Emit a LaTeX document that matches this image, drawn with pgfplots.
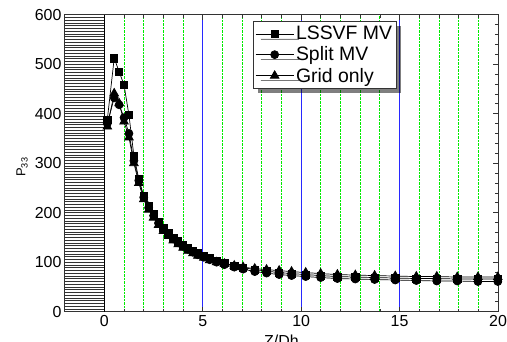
\documentclass[border=0pt]{standalone}
\usepackage{pgfplots}
\pgfplotsset{compat=1.18}
\usepackage{pgfplotstable}
\usepackage{fontspec}
\setmainfont{Liberation Sans}
\usetikzlibrary{shadows}
\definecolor{ggreen}{RGB}{0,235,0}
\definecolor{gblue}{RGB}{40,40,255}
\pgfplotstableread{
x S C T
0.15 388 380 374
0.50 512 432 441
0.75 485 418 421
1.00 458 392 384
1.25 397 360 352
1.50 315 305 300
1.75 268 265 260
2.00 234 231 227
2.25 213 210 206
2.50 197 194 190
2.75 182 179 175
3.00 169 166 163
3.25 159 156 153
3.50 150 147 144
3.75 142 139 136
4.00 135 132 129
4.25 129 126 123
4.50 123 120 118
4.75 118 115 113
5.05 113 110 109
5.35 108 105 104
5.70 103 100 100
6.10 98 95 97
6.60 93 90 93
7.05 89 86 90
7.64 85 81 87
8.24 82 78 85
8.88 79 75 83
9.51 77 73 81
10.23 75 71 79
10.99 73 69 77
11.84 71 67 75
12.75 70 66 74
13.73 69 65 73
14.78 68 64 72
15.85 67 63 71
16.89 67 62 71
17.93 66 62 70
18.98 66 61 70
19.99 66 61 70
}\datatable
\begin{document}
\begin{tikzpicture}
\begin{axis}[
  at={(0,0)}, anchor=south west,
  scale only axis, width=433bp, height=297bp,
  xmin=-2, xmax=20, ymin=0, ymax=600,
  xtick={0,5,10,15,20}, minor x tick num=4,
  ytick={0,100,...,600}, minor y tick num=4,
  major tick length=5bp, minor tick length=3bp,
  tick align=inside,
  xmajorgrids, xminorgrids,
  major grid style={gblue, line width=1bp, solid},
  minor grid style={ggreen, densely dotted, line width=0.9bp},
  axis line style={black!80, line width=1bp},
  every tick/.style={black!80, line width=0.8bp},
  tick label style={font=\fontsize{16}{18}\selectfont},
  /pgf/number format/assume math mode=true,
  xlabel={Z/Dh},
  xlabel style={at={(axis description cs:0.5,0)}, anchor=north, yshift=-20bp, font=\fontsize{16}{18}\selectfont},
  ylabel={P$_{\mathrm{33}}$},
  ylabel style={at={(axis description cs:0,0.487)}, anchor=center, yshift=43bp, font=\fontsize{13}{15}\selectfont},
  legend style={at={(axis description cs:0.434,0.979)}, anchor=north west,
    draw=black!80, line width=0.8bp, fill=white,
    drop shadow={shadow xshift=5bp, shadow yshift=-5bp, fill=black},
    font=\fontsize{19.5}{21}\selectfont, row sep=1.5bp, inner xsep=2bp, inner ysep=3bp},
  legend cell align=left,
  legend image code/.code={\draw[mark repeat=2,mark phase=2] plot coordinates {(0bp,0bp)(19bp,0bp)(38bp,0bp)};},
]
% hatched region
\fill[white] (axis cs:-2,0) rectangle (axis cs:0,600);
\pgfplotsinvokeforeach{0,...,108}{
  \draw[black!80, line width=0.8bp] (axis cs:-2,{#1*5.5556}) -- (axis cs:0,{#1*5.5556});
}
\draw[black, line width=1bp] (axis cs:0,0) -- (axis cs:0,600);
\addplot[black, line width=0.7bp, mark=square*, mark size=3.6bp] table[x=x, y=S] {\datatable};
\addlegendentry{LSSVF MV}
\addplot[black, line width=0.7bp, mark=*, mark size=4bp] table[x=x, y=C] {\datatable};
\addlegendentry{Split MV}
\addplot[black, line width=0.7bp, mark=triangle*, mark size=5bp] table[x=x, y=T] {\datatable};
\addlegendentry{Grid only}
\end{axis}
\pgfresetboundingbox
\path[use as bounding box] (-65bp,-30.3bp) rectangle (442bp,311.7bp);
\end{tikzpicture}
\end{document}
